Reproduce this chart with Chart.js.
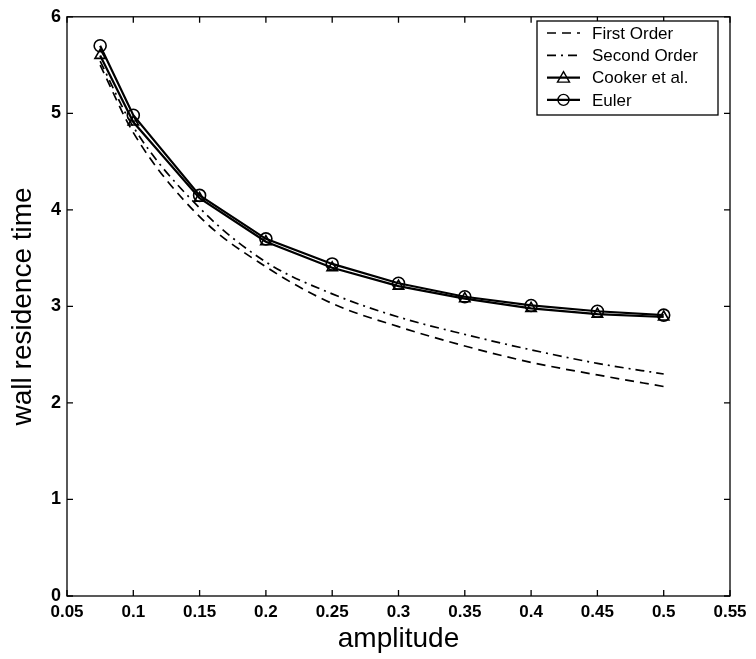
<!DOCTYPE html>
<html>
<head>
<meta charset="utf-8">
<script src="https://cdn.jsdelivr.net/npm/chart.js@4/dist/chart.umd.min.js"></script>
<style>
  body { margin: 0; background: #fff; }
  canvas { display: block; }
</style>
</head>
<body>
<canvas id="resChart" width="756" height="659"></canvas>
<script>
// amplitude values
const amplitude = [0.075, 0.1, 0.15, 0.2, 0.25, 0.3, 0.35, 0.4, 0.45, 0.5];

// wall residence time
const firstOrder  = [5.50, 4.80, 3.93, 3.41, 3.03, 2.79, 2.59, 2.42, 2.29, 2.17];
const secondOrder = [5.54, 4.86, 4.02, 3.46, 3.13, 2.89, 2.71, 2.55, 2.41, 2.30];
const cooker      = [5.60, 4.91, 4.12, 3.67, 3.40, 3.21, 3.08, 2.98, 2.92, 2.89];
const euler       = [5.70, 4.98, 4.15, 3.70, 3.44, 3.24, 3.10, 3.01, 2.95, 2.91];

const seriesNames = ["First Order", "Second Order", "Cooker et al.", "Euler"];

const xTicks = [0.05, 0.1, 0.15, 0.2, 0.25, 0.3, 0.35, 0.4, 0.45, 0.5, 0.55];
const yTicks = [0, 1, 2, 3, 4, 5, 6];

function toPoints(ys) {
    return amplitude.map((x, i) => ({ x: x, y: ys[i] }));
}

const FONT = "'Liberation Sans', Arial, Helvetica, sans-serif";

// box + inward ticks, matlab style
const framePlugin = {
    id: "frame",
    afterDraw(chart) {
        const c = chart.ctx;
        const a = chart.chartArea;
        const xs = chart.scales.x, ys = chart.scales.y;
        c.save();
        c.strokeStyle = "#000";
        c.lineWidth = 1.3;
        c.strokeRect(a.left, a.top, a.right - a.left, a.bottom - a.top);
        c.beginPath();
        xTicks.forEach(v => {
            const px = xs.getPixelForValue(v);
            c.moveTo(px, a.bottom); c.lineTo(px, a.bottom - 6);
            c.moveTo(px, a.top); c.lineTo(px, a.top + 6);
        });
        yTicks.forEach(v => {
            const py = ys.getPixelForValue(v);
            c.moveTo(a.left, py); c.lineTo(a.left + 6, py);
            c.moveTo(a.right, py); c.lineTo(a.right - 6, py);
        });
        c.stroke();
        c.restore();
    }
};

// legend box in the top right corner
const legendPlugin = {
    id: "boxLegend",
    afterDraw(chart) {
        const c = chart.ctx;
        const left = 537, top = 21, w = 181, h = 94;
        c.save();
        c.fillStyle = "#fff";
        c.fillRect(left, top, w, h);
        c.strokeStyle = "#000";
        c.lineWidth = 1.3;
        c.strokeRect(left, top, w, h);
        c.font = "17px " + FONT;
        c.textBaseline = "middle";
        chart.data.datasets.forEach((ds, i) => {
            const y = top + 12 + i * 22.3;
            c.strokeStyle = "#000";
            c.lineWidth = ds.borderWidth;
            c.setLineDash(ds.borderDash || []);
            c.beginPath();
            c.moveTo(547, y); c.lineTo(580, y);
            c.stroke();
            c.setLineDash([]);
            if (ds.pointStyle === "circle") {
                c.lineWidth = 1.4;
                c.beginPath();
                c.arc(563.5, y, 5.5, 0, Math.PI * 2);
                c.stroke();
            } else if (ds.pointStyle === "triangle") {
                c.lineWidth = 1.4;
                c.beginPath();
                c.moveTo(563.5, y - 6);
                c.lineTo(569.5, y + 4.5);
                c.lineTo(557.5, y + 4.5);
                c.closePath();
                c.stroke();
            }
            c.fillStyle = "#000";
            c.fillText(ds.label, 592, y + 1);
        });
        c.restore();
    }
};

new Chart(document.getElementById("resChart"), {
    type: "line",
    data: {
        datasets: [
            {
                label: seriesNames[0],
                data: toPoints(firstOrder),
                borderColor: "#000",
                borderWidth: 1.7,
                borderDash: [9, 6],
                pointRadius: 0,
                cubicInterpolationMode: "monotone"
            },
            {
                label: seriesNames[1],
                data: toPoints(secondOrder),
                borderColor: "#000",
                borderWidth: 1.7,
                borderDash: [9, 5, 2, 5],
                pointRadius: 0,
                cubicInterpolationMode: "monotone"
            },
            {
                label: seriesNames[2],
                data: toPoints(cooker),
                borderColor: "#000",
                borderWidth: 2.2,
                pointStyle: "triangle",
                pointRadius: 6,
                pointBorderWidth: 1.6,
                pointBackgroundColor: "rgba(0,0,0,0)",
                tension: 0
            },
            {
                label: seriesNames[3],
                data: toPoints(euler),
                borderColor: "#000",
                borderWidth: 2.2,
                pointStyle: "circle",
                pointRadius: 6,
                pointBorderWidth: 1.6,
                pointBackgroundColor: "rgba(0,0,0,0)",
                tension: 0
            }
        ]
    },
    options: {
        responsive: false,
        animation: false,
        layout: { autoPadding: false, padding: { left: 0, right: 26, top: 15, bottom: 0 } },
        plugins: {
            legend: { display: false },
            tooltip: { enabled: false }
        },
        scales: {
            x: {
                type: "linear",
                min: 0.05,
                max: 0.55,
                afterBuildTicks: s => { s.ticks = xTicks.map(v => ({ value: v })); },
                afterFit: s => { s.height = 63; },
                grid: { display: false, drawTicks: false },
                border: { display: false },
                ticks: {
                    color: "#000",
                    padding: 6,
                    font: { family: FONT, size: 17, weight: "bold" },
                    callback: v => String(Math.round(v * 100) / 100)
                },
                title: {
                    display: true,
                    text: "amplitude",
                    color: "#000",
                    padding: { top: 0, bottom: 3 },
                    font: { family: FONT, size: 28 }
                }
            },
            y: {
                min: 0,
                max: 6,
                afterBuildTicks: s => { s.ticks = yTicks.map(v => ({ value: v })); },
                afterFit: s => { s.width = 67; },
                grid: { display: false, drawTicks: false },
                border: { display: false },
                ticks: {
                    color: "#000",
                    padding: 6,
                    font: { family: FONT, size: 18, weight: "bold" }
                },
                title: {
                    display: true,
                    text: "wall residence time",
                    color: "#000",
                    padding: { top: 6, bottom: 0 },
                    font: { family: FONT, size: 28 }
                }
            }
        }
    },
    plugins: [framePlugin, legendPlugin]
});
</script>
</body>
</html>
